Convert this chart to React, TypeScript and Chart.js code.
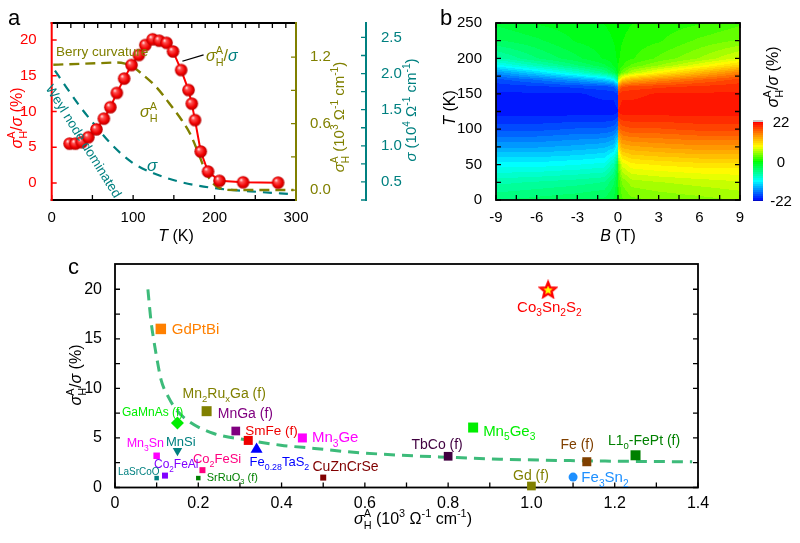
import React, { useEffect, useRef } from 'react';
import { Chart, registerables } from 'chart.js';

Chart.register(...registerables);

const FONT = '"Liberation Sans", Arial, Helvetica, sans-serif';
const RED = '#ff0000';
const OLIVE = '#808000';
const TEAL = '#008080';
const FIT_GREEN = '#3dbb7a';

/* ---------------- panel a data ---------------- */
const tempK = [22, 29, 37, 45, 55, 64, 72, 80, 89, 98, 107, 115, 124, 132, 141, 149, 159, 168, 172, 176, 183, 192, 206, 235, 278];
const ratioPct = [5.5, 5.5, 5.7, 6.4, 7.5, 9.0, 10.6, 12.6, 14.6, 16.5, 17.9, 19.3, 20.1, 19.9, 19.6, 18.4, 15.8, 13.0, 11.1, 8.8, 4.4, 1.6, 0.3, 0.1, 0.05];
const berryT = [2, 20, 40, 60, 80, 90, 100, 112, 129, 145, 160, 170, 182, 190, 203, 223, 297];
const berrySigmaAH = [1.13, 1.135, 1.14, 1.145, 1.15, 1.14, 1.11, 1.04, 0.925, 0.776, 0.627, 0.507, 0.298, 0.149, 0.03, 0.0, 0.0];
const weylT = [4, 18, 35, 55, 76, 100, 125, 158, 203, 244, 297];
const weylSigma = [2.04, 1.81, 1.54, 1.26, 0.99, 0.76, 0.62, 0.5, 0.41, 0.37, 0.33];

const aTempTicks = [0, 100, 200, 300];
const aTempMinor = [0, 50, 100, 150, 200, 250, 300];
const aTempTop = [7, 23.5, 40, 56.5, 73, 89.5, 106, 122.5, 139, 155.5, 172, 188.5, 205, 221.5, 238, 254.5, 271, 287.5];
const aRatioTicks = [0, 5, 10, 15, 20];
const aBerryTicks = [0, 0.6, 1.2];
const aBerryMinor = [0, 0.3, 0.6, 0.9, 1.2];
const aSigmaTicks = [0.5, 1.0, 1.5, 2.0, 2.5];
const aSigmaMinor = [0.25, 0.5, 0.75, 1.0, 1.25, 1.5, 1.75, 2.0, 2.25, 2.5];

/* ---------------- panel b data ---------------- */
const mapT = [0, 25, 50, 75, 100, 125, 150, 160, 170, 180, 190, 200, 225, 250];
const mapBNeg = [-9, -6, -3, -1, -0.3, 0];
const mapBPos = [0, 0.3, 1, 3, 6, 9];
const mapZNeg = [
  [-5, -4.5, -4, -3.5, -2.5, -1],
  [-7.5, -7, -6.5, -6, -4, -1.5],
  [-11, -11, -10.5, -10, -7.5, -3],
  [-15, -15, -14.5, -14, -13, -10],
  [-18.5, -18.5, -18, -18, -17.5, -16],
  [-21, -21, -21, -21, -21, -20.5],
  [-20.5, -20.5, -20.5, -20, -20, -19],
  [-20, -19.5, -19, -18.5, -18, -16],
  [-18.5, -17, -15, -13, -11, -6],
  [-15.5, -12.5, -9, -6, -3.5, -1],
  [-11, -8, -5, -3, -1.5, -0.5],
  [-7.5, -5, -3, -1.5, -1, -0.3],
  [-4, -3, -1.5, -1, -0.5, 0],
  [-2.5, -1.5, -1, -0.5, -0.2, 0],
];
const mapZPos = [
  [1, 2.5, 3.5, 4, 4.5, 5],
  [1.5, 4, 5.5, 6, 6.5, 7],
  [3, 7.5, 9, 9.5, 10, 10],
  [10, 13, 13.5, 14, 14.5, 14.5],
  [16, 17.5, 18, 18, 18.5, 18.5],
  [20.5, 21, 21, 21, 21, 21],
  [19, 20, 20, 20.5, 20.5, 20.5],
  [16, 18, 18.5, 19, 19.5, 20],
  [6, 11, 13, 15, 17, 18.5],
  [1, 3.5, 6, 9, 12.5, 15.5],
  [0.5, 1.5, 3, 5, 8, 11],
  [0.3, 1, 1.5, 3, 5, 7.5],
  [0, 0.5, 1, 1.5, 3, 4],
  [0, 0.2, 0.5, 1, 1.5, 2.5],
];
const bFieldTicks = [-9, -6, -3, 0, 3, 6, 9];
const bFieldMinor = [-9, -7.5, -6, -4.5, -3, -1.5, 0, 1.5, 3, 4.5, 6, 7.5, 9];
const bTempTicks = [0, 50, 100, 150, 200, 250];
const bTempMinor = [0, 25, 50, 75, 100, 125, 150, 175, 200, 225, 250];
const cbarTicks = [22, 0, -22];
const cmapValues = [-23, -21, -11, 0, 8.5, 15, 22];
const cmapRGB = [[0, 0, 140], [0, 20, 255], [0, 255, 255], [0, 255, 0], [255, 255, 0], [255, 140, 0], [255, 0, 0]];

/* ---------------- panel c data ---------------- */
const matNames = ['Co_3Sn_2S_2', 'GdPtBi', 'Mn_2Ru_xGa (f)', 'GaMnAs (f)', 'MnGa (f)', 'SmFe (f)', 'Mn_3Ge', 'Fe_{0.28}TaS_2', 'MnSi', 'Mn_3Sn', 'Co_2FeSi', 'Co_2FeAl', 'LaSrCoO', 'SrRuO_3 (f)', 'CuZnCrSe', 'TbCo (f)', 'Mn_5Ge_3', 'Fe (f)', 'L1_0-FePt (f)', 'Gd (f)', 'Fe_3Sn_2'];
const matSigmaAH = [1.04, 0.11, 0.22, 0.15, 0.29, 0.32, 0.45, 0.34, 0.15, 0.10, 0.21, 0.12, 0.10, 0.20, 0.50, 0.80, 0.86, 1.133, 1.25, 1.0, 1.10];
const matRatio = [20.0, 16.0, 7.7, 6.5, 5.7, 4.75, 5.0, 3.85, 3.7, 3.2, 1.75, 1.2, 0.95, 0.95, 1.0, 3.15, 6.05, 2.6, 3.25, 0.15, 1.05];
const matColor = ['#ff0000', '#ff8000', '#808000', '#00ee00', '#800080', '#ee0000', '#ff00ff', '#0000ff', '#008080', '#ff00ff', '#ff0080', '#8000ff', '#008080', '#008000', '#800000', '#400040', '#00ee00', '#804000', '#008000', '#808000', '#1e90ff'];
const matShape = ['star', 'rect', 'rect', 'rectRot', 'rect', 'rect', 'rect', 'triangle', 'triDown', 'rect', 'rect', 'rect', 'rect', 'rect', 'rect', 'rect', 'rect', 'rect', 'rect', 'rect', 'circle'];
const matMarkerPx = [15, 10.5, 10, 13, 8.7, 9, 9, 12, 9.5, 6.5, 6, 6, 4.5, 4.5, 6, 8.7, 10, 9, 10, 8.7, 9];
const matLabelStyle = [
  { dx: -31, dy: 17, size: 15 },
  { dx: 11, dy: 0, size: 15 },
  { dx: -24, dy: -18, size: 14 },
  { dx: -55.5, dy: -11.5, size: 12 },
  { dx: -18, dy: -18, size: 14 },
  { dx: -3, dy: -10, size: 13.5 },
  { dx: 9.5, dy: -1, size: 15 },
  { dx: -7, dy: 12, size: 13 },
  { dx: -11.5, dy: -10, size: 13 },
  { dx: -30, dy: -13, size: 12.5 },
  { dx: -9.5, dy: -12, size: 13 },
  { dx: -11, dy: -12, size: 12 },
  { dx: -38.7, dy: -6.4, size: 10 },
  { dx: 8.4, dy: -1, size: 11 },
  { dx: -10.7, dy: -12, size: 14 },
  { dx: -36.7, dy: -12.3, size: 14 },
  { dx: 10, dy: 3, size: 15 },
  { dx: -26.4, dy: -17.8, size: 14 },
  { dx: -27.6, dy: -15.3, size: 14 },
  { dx: -18.4, dy: -11, size: 14 },
  { dx: 8.3, dy: 0, size: 15 },
];
const fitSigmaAH = [0.079, 0.083, 0.087, 0.093, 0.101, 0.111, 0.128, 0.148, 0.18, 0.237, 0.318, 0.398, 0.479, 0.56, 0.684, 0.8, 0.924, 1.13, 1.386];
const fitRatio = [20.0, 18.2, 16.6, 14.9, 12.9, 10.8, 9.15, 7.8, 6.6, 5.45, 4.78, 4.27, 3.94, 3.6, 3.26, 3.05, 2.86, 2.69, 2.59];
const cSigmaTicks = [0, 0.2, 0.4, 0.6, 0.8, 1.0, 1.2, 1.4];
const cSigmaMinor = [0, 0.1, 0.2, 0.3, 0.4, 0.5, 0.6, 0.7, 0.8, 0.9, 1.0, 1.1, 1.2, 1.3, 1.4];
const cRatioTicks = [0, 5, 10, 15, 20];
const cRatioMinor = [0, 2.5, 5, 7.5, 10, 12.5, 15, 17.5, 20];

/* ---------------- helpers ---------------- */
type Seg = { t: string; k: number; it: boolean };
function parseRich(s: string): Seg[] {
  const out: Seg[] = [];
  let buf = '';
  const flush = () => { if (buf) out.push({ t: buf, k: 0, it: false }); buf = ''; };
  for (let i = 0; i < s.length;) {
    const c = s[i];
    if (c === '_' || c === '^' || c === '~') {
      flush();
      let body = '';
      if (s[i + 1] === '{') { const j = s.indexOf('}', i + 2); body = s.slice(i + 2, j); i = j + 1; }
      else { body = s[i + 1]; i += 2; }
      out.push({ t: body, k: c === '_' ? 1 : c === '^' ? 2 : 0, it: c === '~' });
    } else { buf += c; i++; }
  }
  flush();
  return out;
}

function drawRich(ctx: CanvasRenderingContext2D, s: string, x: number, y: number, size: number, color: string, align = 'left', rot = 0): number {
  const segs = parseRich(s);
  ctx.save();
  ctx.translate(x, y);
  if (rot) ctx.rotate(rot);
  let cx = 0;
  let prev: any = null;
  const items: any[] = [];
  for (const sg of segs) {
    const sz = sg.k ? size * 0.68 : size;
    const font = `${sg.it ? 'italic ' : ''}${sz}px ${FONT}`;
    ctx.font = font;
    const w = ctx.measureText(sg.t).width;
    let x0 = cx;
    if (sg.k === 2 && prev && prev.k === 1) { x0 = prev.x0; cx = Math.max(prev.x0 + prev.w, x0 + w); }
    else cx = x0 + w;
    const dy = sg.k === 1 ? size * 0.3 : sg.k === 2 ? -size * 0.42 : 0;
    items.push({ t: sg.t, font, x0, dy });
    prev = { k: sg.k, x0, w };
  }
  const off = align === 'center' ? -cx / 2 : align === 'right' ? -cx : 0;
  ctx.fillStyle = color;
  ctx.textAlign = 'left';
  ctx.textBaseline = 'alphabetic';
  for (const it of items) { ctx.font = it.font; ctx.fillText(it.t, off + it.x0, it.dy + size * 0.36); }
  ctx.restore();
  return cx;
}

function line(ctx: CanvasRenderingContext2D, x1: number, y1: number, x2: number, y2: number, color: string, lw: number) {
  ctx.save();
  ctx.strokeStyle = color; ctx.lineWidth = lw; ctx.lineCap = 'square';
  ctx.beginPath(); ctx.moveTo(x1, y1); ctx.lineTo(x2, y2); ctx.stroke();
  ctx.restore();
}

function tickMarks(ctx: CanvasRenderingContext2D, a: any, scale: any, values: number[], side: string, len: number, color: string, lw = 1.3) {
  ctx.save();
  ctx.strokeStyle = color; ctx.lineWidth = lw;
  ctx.beginPath();
  for (const v of values) {
    const p = scale.getPixelForValue(v);
    if (side === 'bottom') { ctx.moveTo(p, a.bottom); ctx.lineTo(p, a.bottom - len); }
    else if (side === 'top') { ctx.moveTo(p, a.top); ctx.lineTo(p, a.top + len); }
    else if (side === 'left') { ctx.moveTo(a.left, p); ctx.lineTo(a.left + len, p); }
    else { ctx.moveTo(a.right, p); ctx.lineTo(a.right - len, p); }
  }
  ctx.stroke();
  ctx.restore();
}

function colorFor(v: number): number[] {
  if (v <= cmapValues[0]) return cmapRGB[0];
  for (let i = 0; i < cmapValues.length - 1; i++) {
    if (v <= cmapValues[i + 1]) {
      const f = (v - cmapValues[i]) / (cmapValues[i + 1] - cmapValues[i]);
      const a = cmapRGB[i], b = cmapRGB[i + 1];
      return [a[0] + (b[0] - a[0]) * f, a[1] + (b[1] - a[1]) * f, a[2] + (b[2] - a[2]) * f];
    }
  }
  return cmapRGB[cmapRGB.length - 1];
}

function bracket(arr: number[], v: number): number[] {
  if (v <= arr[0]) return [0, 0, 0];
  for (let i = 0; i < arr.length - 1; i++) {
    if (v <= arr[i + 1]) return [i, i + 1, (v - arr[i]) / (arr[i + 1] - arr[i])];
  }
  const n = arr.length - 1;
  return [n, n, 0];
}

function mapValue(b: number, t: number): number {
  const cols = b < 0 ? mapBNeg : mapBPos;
  const Z = b < 0 ? mapZNeg : mapZPos;
  const [i0, i1, fy] = bracket(mapT, t);
  const [j0, j1, fx] = bracket(cols, b);
  const lo = Z[i0][j0] * (1 - fx) + Z[i0][j1] * fx;
  const hi = Z[i1][j0] * (1 - fx) + Z[i1][j1] * fx;
  return lo * (1 - fy) + hi * fy;
}

function makeSphere(r: number) {
  const c = document.createElement('canvas');
  const s = Math.ceil(r * 2 + 2);
  c.width = s; c.height = s;
  const g = c.getContext('2d')!;
  const cx = s / 2, cy = s / 2;
  const grad = g.createRadialGradient(cx - r * 0.35, cy - r * 0.4, r * 0.05, cx, cy, r);
  grad.addColorStop(0, '#ffe6e6');
  grad.addColorStop(0.25, '#ff5050');
  grad.addColorStop(0.7, '#f00000');
  grad.addColorStop(1, '#b40000');
  g.fillStyle = grad;
  g.beginPath(); g.arc(cx, cy, r, 0, Math.PI * 2); g.fill();
  return c;
}

function makeStar(R: number) {
  const c = document.createElement('canvas');
  const s = Math.ceil(R * 2 + 4);
  c.width = s; c.height = s;
  const g = c.getContext('2d')!;
  const cx = s / 2, cy = s / 2 + 1;
  g.beginPath();
  for (let i = 0; i < 10; i++) {
    const rr = i % 2 === 0 ? R : R * 0.45;
    const ang = -Math.PI / 2 + (i * Math.PI) / 5;
    const px = cx + rr * Math.cos(ang), py = cy + rr * Math.sin(ang);
    if (i === 0) g.moveTo(px, py); else g.lineTo(px, py);
  }
  g.closePath();
  g.fillStyle = '#ffff00'; g.fill();
  g.lineWidth = 2.4; g.strokeStyle = '#ff0000'; g.lineJoin = 'miter'; g.stroke();
  return c;
}

const fixTicks = (vals: number[]) => (s: any) => { s.ticks = vals.map((v) => ({ value: v })); };
const tickFont = (size: number) => ({ family: FONT, size });

/* ---------------- panel a ---------------- */
function configA() {
  const sphere = makeSphere(6.3);
  const plugin = {
    id: 'panelA',
    beforeDatasetsDraw(chart: any) {
      const { ctx, chartArea: a, scales } = chart;
      tickMarks(ctx, a, scales.x, aTempMinor, 'bottom', 5, '#000');
      tickMarks(ctx, a, scales.x, aTempTop, 'top', 5, '#000');
      tickMarks(ctx, a, scales.y, aRatioTicks, 'left', 5, RED);
      tickMarks(ctx, a, scales.y1, aBerryMinor, 'right', 5, OLIVE);
      const s2 = scales.y2;
      ctx.save();
      ctx.strokeStyle = TEAL; ctx.lineWidth = 1.3; ctx.beginPath();
      for (const v of aSigmaMinor) { const p = s2.getPixelForValue(v); ctx.moveTo(s2.left, p); ctx.lineTo(s2.left - 5, p); }
      ctx.stroke(); ctx.restore();
      line(ctx, s2.left, a.top, s2.left, a.bottom, TEAL, 2);
      line(ctx, a.left, a.top, a.right, a.top, '#000', 2);
      line(ctx, a.left, a.bottom, a.right, a.bottom, '#000', 2);
      line(ctx, a.left, a.top, a.left, a.bottom, RED, 2);
      line(ctx, a.right, a.top, a.right, a.bottom, OLIVE, 2);
    },
    afterDraw(chart: any) {
      const { ctx } = chart;
      drawRich(ctx, 'a', 8, 17, 22, '#000');
      drawRich(ctx, 'Berry curvature', 56, 51, 13.5, OLIVE);
      drawRich(ctx, 'Weyl node dominated', 84, 141, 13.5, TEAL, 'center', (58 * Math.PI) / 180);
      line(ctx, 183, 61, 203, 55, '#000', 1.2);
      const w1 = drawRich(ctx, '~σ_H^A/', 206, 55, 16, OLIVE);
      drawRich(ctx, '~σ', 206 + w1, 55, 16, TEAL);
      drawRich(ctx, '~σ_H^A', 140, 111, 16, OLIVE);
      drawRich(ctx, '~σ', 147, 165, 17, TEAL);
      drawRich(ctx, '~T (K)', 176, 235, 16, '#000', 'center');
      drawRich(ctx, '~σ_H^A/~σ (%)', 16, 118, 16, RED, 'center', -Math.PI / 2);
      drawRich(ctx, '~σ_H^A (10^3 Ω^{-1} cm^{-1})', 339, 117, 15, OLIVE, 'center', -Math.PI / 2);
      drawRich(ctx, '~σ (10^4 Ω^{-1} cm^{-1})', 411, 110, 15, TEAL, 'center', -Math.PI / 2);
    },
  };
  return {
    type: 'line',
    data: {
      datasets: [
        {
          data: tempK.map((t, i) => ({ x: t, y: ratioPct[i] })),
          yAxisID: 'y', borderColor: RED, borderWidth: 2, pointStyle: sphere,
          pointRadius: 6, pointHoverRadius: 6, clip: false, tension: 0,
        },
        {
          data: berryT.map((t, i) => ({ x: t, y: berrySigmaAH[i] })),
          yAxisID: 'y1', borderColor: OLIVE, borderWidth: 2.4, borderDash: [10, 6],
          pointRadius: 0, cubicInterpolationMode: 'monotone',
        },
        {
          data: weylT.map((t, i) => ({ x: t, y: weylSigma[i] })),
          yAxisID: 'y2', borderColor: TEAL, borderWidth: 2.2, borderDash: [9, 7],
          pointRadius: 0, cubicInterpolationMode: 'monotone',
        },
      ],
    },
    options: {
      animation: false, responsive: false, events: [], devicePixelRatio: 1,
      layout: { padding: { top: 23, left: 0, right: 0, bottom: 0 } },
      plugins: { legend: { display: false }, tooltip: { enabled: false } },
      scales: {
        x: {
          type: 'linear', min: 0, max: 300,
          afterFit: (s: any) => { s.height = 52; }, afterBuildTicks: fixTicks(aTempTicks),
          grid: { display: false }, border: { display: false },
          ticks: { color: '#000', font: tickFont(15), padding: 1, maxRotation: 0, autoSkip: false },
        },
        y: {
          type: 'linear', position: 'left', min: -2.38, max: 22.38,
          afterFit: (s: any) => { s.width = 51.7; }, afterBuildTicks: fixTicks(aRatioTicks),
          grid: { display: false }, border: { display: false },
          ticks: { color: RED, font: tickFont(15), padding: 7, autoSkip: false },
        },
        y1: {
          type: 'linear', position: 'right', min: -0.09, max: 1.507,
          afterFit: (s: any) => { s.width = 70; }, afterBuildTicks: fixTicks(aBerryTicks),
          grid: { display: false }, border: { display: false },
          ticks: { color: OLIVE, font: tickFont(15), padding: 6, autoSkip: false, callback: (v: number) => v.toFixed(1) },
        },
        y2: {
          type: 'linear', position: 'right', min: 0.25, max: 2.7,
          afterFit: (s: any) => { s.width = 54; }, afterBuildTicks: fixTicks(aSigmaTicks),
          grid: { display: false }, border: { display: false },
          ticks: { color: TEAL, font: tickFont(15), padding: 7, autoSkip: false, callback: (v: number) => v.toFixed(1) },
        },
      },
    },
    plugins: [plugin],
  };
}

/* ---------------- panel b ---------------- */
function configB() {
  const plugin = {
    id: 'panelB',
    beforeDatasetsDraw(chart: any) {
      const { ctx, chartArea: a, scales } = chart;
      const x = scales.x, y = scales.y;
      const L = Math.round(a.left), T0 = Math.round(a.top);
      const W = Math.round(a.right) - L, H = Math.round(a.bottom) - T0;
      const off = document.createElement('canvas');
      off.width = W; off.height = H;
      const octx = off.getContext('2d')!;
      const img = octx.createImageData(W, H);
      for (let j = 0; j < H; j++) {
        const t = y.getValueForPixel(T0 + j + 0.5);
        for (let i = 0; i < W; i++) {
          const b = x.getValueForPixel(L + i + 0.5);
          const v = Math.round(mapValue(b, t) / 1.1) * 1.1;
          const c = colorFor(v);
          const k = (j * W + i) * 4;
          img.data[k] = c[0]; img.data[k + 1] = c[1]; img.data[k + 2] = c[2]; img.data[k + 3] = 255;
        }
      }
      octx.putImageData(img, 0, 0);
      ctx.drawImage(off, L, T0);
      tickMarks(ctx, a, x, bFieldMinor, 'bottom', 5, '#000');
      tickMarks(ctx, a, x, bFieldMinor, 'top', 5, '#000');
      tickMarks(ctx, a, y, bTempMinor, 'left', 5, '#000');
      tickMarks(ctx, a, y, bTempMinor, 'right', 5, '#000');
      ctx.save();
      ctx.strokeStyle = '#000'; ctx.lineWidth = 1.8;
      ctx.strokeRect(a.left, a.top, a.right - a.left, a.bottom - a.top);
      ctx.restore();
    },
    afterDraw(chart: any) {
      const { ctx, chartArea: a } = chart;
      drawRich(ctx, 'b', 20, 17, 22, '#000');
      drawRich(ctx, '~T (K)', 29, 108, 16, '#000', 'center', -Math.PI / 2);
      drawRich(ctx, '~B (T)', (a.left + a.right) / 2, 235, 16, '#000', 'center');
      // colour bar
      const cbL = 333, cbW = 10, cbT = 122, cbB = 201;
      const vmax = cbarTicks[0], vmin = cbarTicks[cbarTicks.length - 1];
      for (let p = cbT; p < cbB; p++) {
        const v = vmax - ((p + 0.5 - cbT) / (cbB - cbT)) * (vmax - vmin);
        const q = Math.round(v / 1.1) * 1.1;
        const c = colorFor(q);
        ctx.fillStyle = `rgb(${c[0]},${c[1]},${c[2]})`;
        ctx.fillRect(cbL, p, cbW, 1);
      }
      ctx.fillStyle = '#c8c8c8';
      ctx.fillRect(cbL, cbT - 2, cbW, 2);
      for (const v of cbarTicks) {
        const p = cbT + ((vmax - v) / (vmax - vmin)) * (cbB - cbT);
        drawRich(ctx, String(v), 361, p, 15, '#000', 'center');
      }
      drawRich(ctx, '~σ_H^A/~σ (%)', 352, 77, 16, '#000', 'center', -Math.PI / 2);
    },
  };
  return {
    type: 'scatter',
    data: { datasets: [{ data: [] as any[] }] },
    options: {
      animation: false, responsive: false, events: [], devicePixelRatio: 1,
      layout: { padding: { top: 23, left: 0, right: 60, bottom: 0 } },
      plugins: { legend: { display: false }, tooltip: { enabled: false } },
      scales: {
        x: {
          type: 'linear', min: -9, max: 9,
          afterFit: (s: any) => { s.height = 52; }, afterBuildTicks: fixTicks(bFieldTicks),
          grid: { display: false }, border: { display: false },
          ticks: { color: '#000', font: tickFont(15), padding: 1, maxRotation: 0, autoSkip: false, callback: (v: number) => String(v) },
        },
        y: {
          type: 'linear', min: 0, max: 250,
          afterFit: (s: any) => { s.width = 76; }, afterBuildTicks: fixTicks(bTempTicks),
          grid: { display: false }, border: { display: false },
          ticks: { color: '#000', font: tickFont(15), padding: 6, autoSkip: false, callback: (v: number) => String(v) },
        },
      },
    },
    plugins: [plugin],
  };
}

/* ---------------- panel c ---------------- */
function configC() {
  const star = makeStar(8);
  const styles = matShape.map((s) => (s === 'star' ? star : s === 'triDown' ? 'triangle' : s));
  const radii = matShape.map((s, i) => {
    const px = matMarkerPx[i];
    if (s === 'rect') return px / 1.414;
    if (s === 'triangle' || s === 'triDown') return px / 1.732;
    return px / 2;
  });
  const plugin = {
    id: 'panelC',
    beforeDatasetsDraw(chart: any) {
      const { ctx, chartArea: a, scales } = chart;
      tickMarks(ctx, a, scales.x, cSigmaMinor, 'bottom', 5, '#000');
      tickMarks(ctx, a, scales.y, cRatioMinor, 'left', 5, '#000');
      tickMarks(ctx, a, scales.y, cRatioMinor, 'right', 5, '#000');
      ctx.save();
      ctx.strokeStyle = '#000'; ctx.lineWidth = 1.8;
      ctx.strokeRect(a.left, a.top, a.right - a.left, a.bottom - a.top);
      ctx.restore();
    },
    afterDraw(chart: any) {
      const { ctx, scales } = chart;
      for (let i = 0; i < matNames.length; i++) {
        const st = matLabelStyle[i];
        const px = scales.x.getPixelForValue(matSigmaAH[i]) + st.dx;
        const py = scales.y.getPixelForValue(matRatio[i]) + st.dy;
        drawRich(ctx, matNames[i], px, py, st.size, matColor[i]);
      }
      drawRich(ctx, 'c', 68, 26, 22, '#000');
      drawRich(ctx, '~σ_H^A (10^3 Ω^{-1} cm^{-1})', 413, 278, 16, '#000', 'center');
      drawRich(ctx, '~σ_H^A/~σ (%)', 75, 135, 16, '#000', 'center', -Math.PI / 2);
    },
  };
  return {
    type: 'scatter',
    data: {
      datasets: [
        {
          data: matSigmaAH.map((x, i) => ({ x, y: matRatio[i] })),
          pointStyle: styles,
          pointRotation: matShape.map((s) => (s === 'triDown' ? 180 : 0)),
          pointRadius: radii, pointHoverRadius: radii,
          pointBackgroundColor: matColor, pointBorderColor: matColor, pointBorderWidth: 0,
          clip: false,
        },
        {
          type: 'line',
          data: fitSigmaAH.map((x, i) => ({ x, y: fitRatio[i] })),
          showLine: true, borderColor: FIT_GREEN, borderWidth: 3, borderDash: [11, 7],
          pointRadius: 0, cubicInterpolationMode: 'monotone', fill: false,
        },
      ],
    },
    options: {
      animation: false, responsive: false, events: [], devicePixelRatio: 1,
      layout: { padding: { top: 24, left: 0, right: 62, bottom: 0 } },
      plugins: { legend: { display: false }, tooltip: { enabled: false } },
      scales: {
        x: {
          type: 'linear', min: 0, max: 1.4,
          afterFit: (s: any) => { s.height = 55.5; }, afterBuildTicks: fixTicks(cSigmaTicks),
          grid: { display: false }, border: { display: false },
          ticks: { color: '#000', font: tickFont(16), padding: -2, maxRotation: 0, autoSkip: false, callback: (v: number) => (v === 0 ? '0' : v.toFixed(1)) },
        },
        y: {
          type: 'linear', min: 0, max: 22.55,
          afterFit: (s: any) => { s.width = 115; }, afterBuildTicks: fixTicks(cRatioTicks),
          grid: { display: false }, border: { display: false },
          ticks: { color: '#000', font: tickFont(16), padding: 5, autoSkip: false, callback: (v: number) => String(v) },
        },
      },
    },
    plugins: [plugin],
  };
}

export default function App() {
  const refA = useRef<HTMLCanvasElement | null>(null);
  const refB = useRef<HTMLCanvasElement | null>(null);
  const refC = useRef<HTMLCanvasElement | null>(null);
  useEffect(() => {
    document.body.style.margin = '0';
    const charts = [
      new Chart(refA.current as HTMLCanvasElement, configA() as any),
      new Chart(refB.current as HTMLCanvasElement, configB() as any),
      new Chart(refC.current as HTMLCanvasElement, configC() as any),
    ];
    return () => charts.forEach((c) => c.destroy());
  }, []);
  return (
    <div style={{ position: 'fixed', left: 0, top: 0, width: 800, height: 543, background: '#ffffff', overflow: 'hidden' }}>
      <canvas ref={refA} width={420} height={252} style={{ position: 'absolute', left: 0, top: 0 }} />
      <canvas ref={refB} width={380} height={252} style={{ position: 'absolute', left: 420, top: 0 }} />
      <canvas ref={refC} width={760} height={303} style={{ position: 'absolute', left: 0, top: 240 }} />
    </div>
  );
}
